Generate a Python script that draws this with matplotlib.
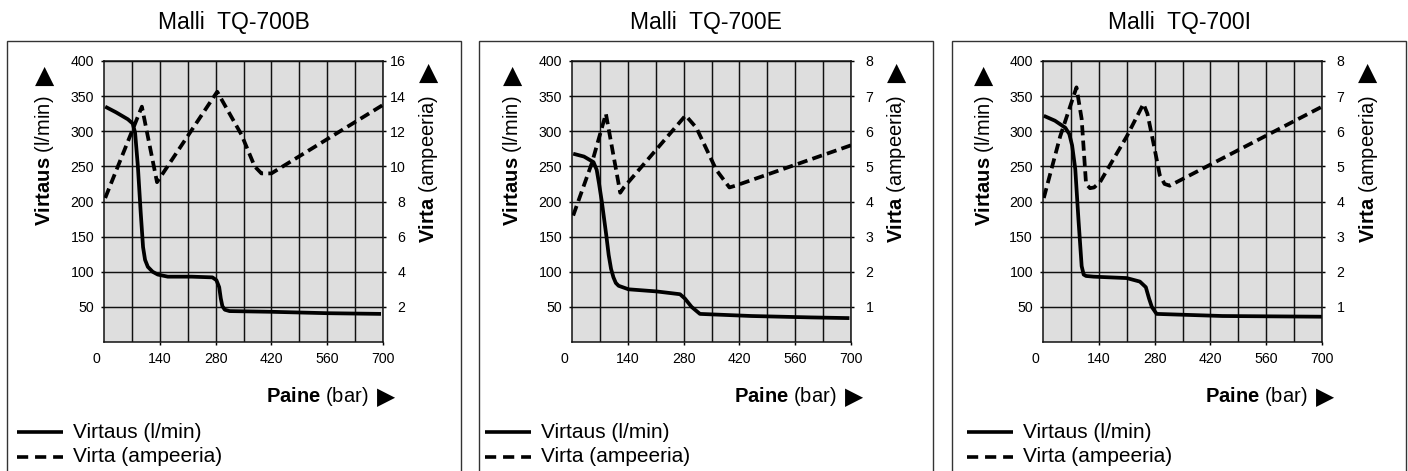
import matplotlib.pyplot as plt
from matplotlib.lines import Line2D
from matplotlib.patches import Rectangle

# Fonts: Arial-like text, bold words via mathtext
plt.rcParams['font.family'] = ['Liberation Sans', 'DejaVu Sans']
plt.rcParams['mathtext.fontset'] = 'custom'
plt.rcParams['mathtext.rm'] = 'Liberation Sans'
plt.rcParams['mathtext.bf'] = 'Liberation Sans:bold'

# ------------------- Data -------------------
titles = ['Malli  TQ-700B', 'Malli  TQ-700E', 'Malli  TQ-700I']

# TQ-700B: flow (l/min) and current (A) vs pressure (bar)
flow_x_b = [3, 30, 60, 72, 78, 85, 92, 98, 103, 110, 122, 135, 160, 220, 272, 282, 289, 293, 297, 303, 315, 420, 560, 695]
flow_y_b = [335, 327, 317, 311, 298, 250, 185, 135, 117, 107, 100, 96, 93, 93, 92, 88, 78, 62, 51, 46, 44, 43, 41, 40]
amp_x_b = [3, 72, 95, 133, 284, 345, 378, 395, 420, 700]
amp_y_b = [8.2, 12.1, 13.4, 9.1, 14.25, 11.8, 10.0, 9.6, 9.6, 13.5]

# TQ-700E
flow_x_e = [3, 30, 54, 62, 68, 75, 86, 92, 98, 104, 110, 117, 142, 212, 271, 283, 300, 321, 450, 600, 696]
flow_y_e = [268, 264, 256, 245, 225, 199, 152, 124, 104, 92, 84, 80, 75, 72, 68, 62, 50, 40, 37, 35, 34]
amp_x_e = [3, 50, 85, 121, 130, 285, 312, 362, 395, 410, 700]
amp_y_e = [3.6, 5.1, 6.5, 4.25, 4.4, 6.45, 6.1, 4.9, 4.4, 4.45, 5.6]

# TQ-700I
flow_x_i = [2, 30, 56, 66, 73, 81, 89, 97, 102, 108, 127, 210, 243, 258, 266, 273, 285, 450, 700]
flow_y_i = [322, 315, 305, 296, 280, 246, 174, 108, 96, 94, 93, 91, 86, 78, 62, 50, 40, 37, 36]
amp_x_i = [2, 43, 84, 97, 108, 118, 128, 143, 210, 252, 262, 277, 293, 305, 318, 700]
amp_y_i = [4.1, 5.85, 7.25, 6.35, 4.5, 4.38, 4.4, 4.55, 5.85, 6.78, 6.5, 5.67, 4.75, 4.5, 4.45, 6.7]

pressure_ticks = [140, 280, 420, 560, 700]
flow_ticks = [50, 100, 150, 200, 250, 300, 350, 400]
amp_ticks_b = [2, 4, 6, 8, 10, 12, 14, 16]
amp_ticks_ei = [1, 2, 3, 4, 5, 6, 7, 8]

panels = [
    (flow_x_b, flow_y_b, amp_x_b, amp_y_b, 16, amp_ticks_b),
    (flow_x_e, flow_y_e, amp_x_e, amp_y_e, 8, amp_ticks_ei),
    (flow_x_i, flow_y_i, amp_x_i, amp_y_i, 8, amp_ticks_ei),
]

# ------------------- Layout (pixels) -------------------
W, H = 1408, 471
box_left = [7, 479, 952]
box_w, box_top = 454, 41
ax_left = [104, 572, 1043]
ax_w, ax_top, ax_bottom = 279, 61, 342
legend_x = [17, 485, 967]


def fx(x):
    return x / W


def fy(y):
    return 1 - y / H


fig = plt.figure(figsize=(W / 100, H / 100), dpi=100)
grid_kw = dict(color='#111111', lw=1.05)
tick_size = 10.2

for i, (fxs, fys, axs_, ays, amax, aticks) in enumerate(panels):
    # Outer frame around each model
    fig.add_artist(Rectangle((fx(box_left[i]), -0.1), box_w / W, (H - box_top) / H + 0.1,
                             transform=fig.transFigure, fill=False, lw=1.0, ec='#333333'))
    fig.text(fx(box_left[i] + box_w / 2), fy(23), titles[i], ha='center', va='center', fontsize=16.5)

    ax = fig.add_axes([fx(ax_left[i]), fy(ax_bottom), ax_w / W, (ax_bottom - ax_top) / H])
    ax.set_facecolor('#dedede')
    ax.set_xlim(0, 700)
    ax.set_ylim(0, 400)
    ax.set_xticks(pressure_ticks)
    ax.set_xticks(range(70, 700, 70), minor=True)
    ax.set_yticks(flow_ticks)
    ax.set_axisbelow(True)
    ax.grid(True, which='both', **grid_kw)
    ax.tick_params(axis='x', which='major', length=2.2, width=1.05, pad=5, labelsize=tick_size)
    ax.tick_params(axis='x', which='minor', length=0)
    ax.tick_params(axis='y', length=2.2, width=1.05, pad=5, labelsize=tick_size)
    for sp in ax.spines.values():
        sp.set_linewidth(1.1)
        sp.set_color('#111111')
    ax.annotate('0', xy=(0, 0), xytext=(-5.8, -7), textcoords='offset points',
                ha='center', va='top', fontsize=tick_size)

    ax.plot(fxs, fys, color='black', lw=2.7, solid_joinstyle='round', solid_capstyle='butt')

    ax2 = ax.twinx()
    ax2.set_ylim(0, amax)
    ax2.set_yticks(aticks)
    ax2.tick_params(axis='y', length=2.2, width=1.05, pad=14, labelsize=tick_size)
    plt.setp(ax2.get_yticklabels(), ha='right')
    for sp in ax2.spines.values():
        sp.set_visible(False)
    ax2.plot(axs_, ays, color='black', lw=2.7, dashes=(2.7, 1.4))

    # Axis titles with direction arrows
    ax_right = ax_left[i] + ax_w
    fig.text(fx(ax_left[i] - 59), fy(161), r'$\mathbf{Virtaus}$ (l/min)', rotation=90,
             ha='center', va='center', fontsize=14.5)
    fig.text(fx(ax_left[i] - 59), fy(76), '▲', ha='center', va='center', fontsize=18,
             family='DejaVu Sans')
    fig.text(fx(ax_right + 46), fy(169), r'$\mathbf{Virta}$ (ampeeria)', rotation=90,
             ha='center', va='center', fontsize=14.5)
    fig.text(fx(ax_right + 46), fy(73), '▲', ha='center', va='center', fontsize=18,
             family='DejaVu Sans')
    fig.text(fx(ax_left[i] + 264), fy(397), r'$\mathbf{Paine}$ (bar)', ha='right', va='center',
             fontsize=14.5)
    fig.text(fx(ax_left[i] + 282), fy(397), '▶', ha='center', va='center', fontsize=17,
             family='DejaVu Sans')

    # Legend
    lx = legend_x[i]
    fig.add_artist(Line2D([fx(lx), fx(lx + 46)], [fy(432), fy(432)], transform=fig.transFigure,
                          color='black', lw=2.6, solid_capstyle='butt'))
    fig.add_artist(Line2D([fx(lx), fx(lx + 46)], [fy(457), fy(457)], transform=fig.transFigure,
                          color='black', lw=2.6, dashes=(3.1, 1.9)))
    fig.text(fx(lx + 56), fy(432), 'Virtaus (l/min)', ha='left', va='center', fontsize=15)
    fig.text(fx(lx + 56), fy(457), 'Virta (ampeeria)', ha='left', va='center', fontsize=15)

fig.savefig('out.png', dpi=100)
